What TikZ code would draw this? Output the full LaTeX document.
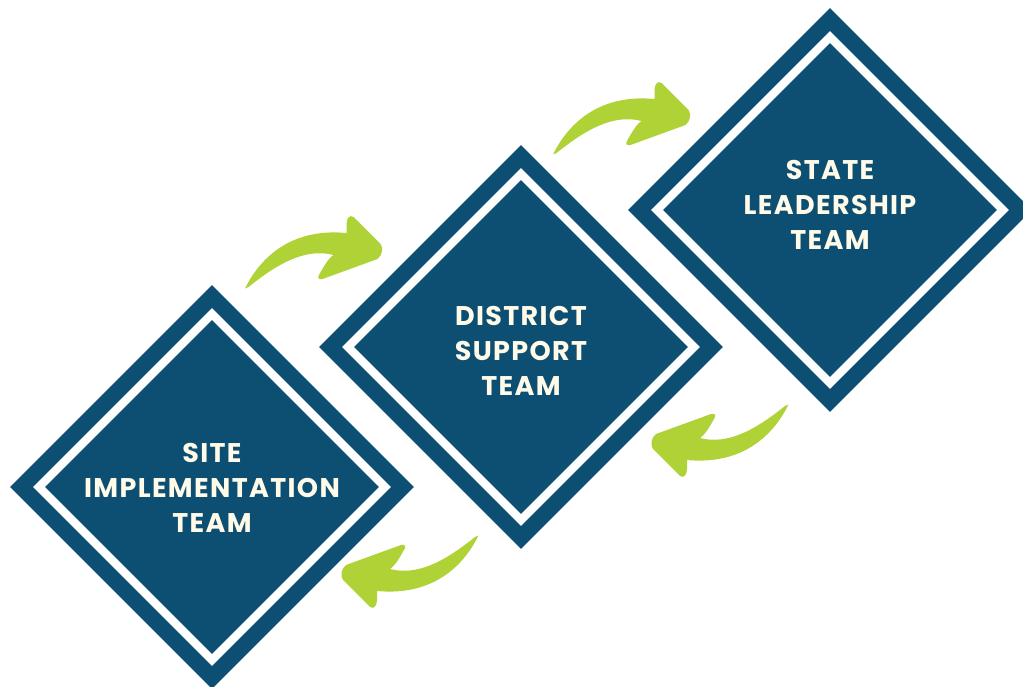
\documentclass[tikz,border=0pt]{standalone}
\usepackage{fontspec}
\setmainfont{Poppins}[UprightFont=* SemiBold, BoldFont=* Bold, LetterSpace=5]
\usetikzlibrary{shapes.geometric}
\definecolor{navy}{HTML}{0C4F73}
\definecolor{lime}{HTML}{AFD236}
\definecolor{cream}{HTML}{FFFBE8}
\tikzset{
  dia/.style={diamond, aspect=1, inner sep=0pt, draw=none},
  outerd/.style={dia, fill=navy, minimum width=404pt, minimum height=404pt},
  whited/.style={dia, fill=white, minimum width=358pt, minimum height=358pt},
  innerd/.style={dia, fill=navy, minimum width=334pt, minimum height=334pt},
  lbl/.style={text=cream, align=center, font=\bfseries\fontsize{27}{35}\selectfont},
  arrowshape/.pic={
    \fill[lime] (-68.5,19.5)
      .. controls (-52,-14) and (-20,-41) .. (33,-36)
      -- (33,-45) .. controls (33,-50) and (36,-55) .. (40,-52)
      -- (67,-25) .. controls (70,-21) and (69,-14) .. (64,-10)
      -- (9,10) .. controls (4,11) and (4,8) .. (6,5)
      .. controls (9,0) and (14,-10) .. (20,-14)
      .. controls (-10,-22) and (-40,-2) .. (-65,18) -- cycle;
  }
}
\begin{document}
\begin{tikzpicture}[x=1pt,y=-1pt]
\useasboundingbox (0,0) rectangle (1023,687);
\clip (0,0) rectangle (1023,687);
% diamonds
\foreach \n/\cx/\cy in {site/212/487, district/521/347, state/830/210}{
  \node[outerd] (\n) at (\cx,\cy) {};
  \node[whited] (\n-w) at (\cx,\cy) {};
  \node[innerd] (\n-i) at (\cx,\cy) {};
}
\node[lbl] (site-t) at (212,488) {SITE\\IMPLEMENTATION\\TEAM};
\node[lbl] (district-t) at (521,351) {DISTRICT\\SUPPORT\\TEAM};
\node[lbl] (state-t) at (830,205) {STATE\\LEADERSHIP\\TEAM};
% arrows
\pic (a1) at (313.5,269) {arrowshape};
\pic (a2) at (621.5,135) {arrowshape};
\pic[rotate=180] (a3) at (720,424) {arrowshape};
\pic[rotate=180] (a4) at (410,555) {arrowshape};
\end{tikzpicture}
\end{document}
